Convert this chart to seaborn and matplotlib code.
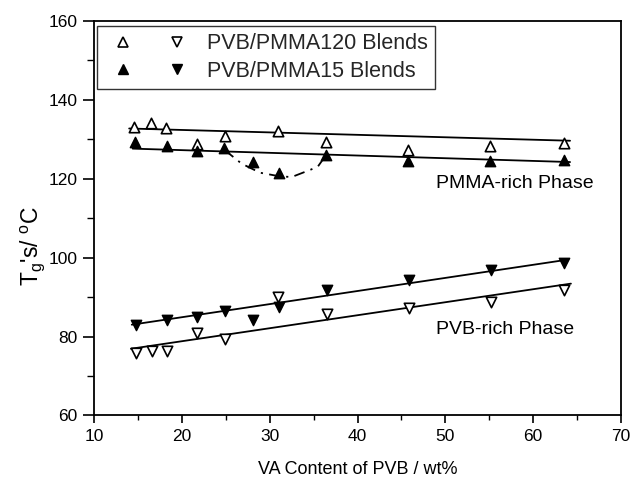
import numpy as np
import pandas as pd
import matplotlib
matplotlib.use("Agg")
import matplotlib.pyplot as plt
import seaborn as sns
from matplotlib.lines import Line2D
from matplotlib.legend_handler import HandlerTuple
from matplotlib.ticker import MultipleLocator

# ---------------- data ----------------
# PMMA-rich phase
pmma_x120 = [14.6, 16.5, 18.2, 21.7, 24.9, 31.0, 36.4, 45.8, 55.1, 63.5]
pmma_y120 = [133.0, 134.1, 132.7, 128.7, 130.8, 132.1, 129.2, 127.2, 128.2, 129.1]
pmma_x15 = [14.7, 18.3, 21.7, 24.8, 28.1, 31.1, 36.4, 45.8, 55.1, 63.5]
pmma_y15 = [129.3, 128.2, 127.0, 127.8, 124.2, 121.3, 126.0, 124.4, 124.4, 124.8]
# PVB-rich phase
pvb_x120 = [14.8, 16.6, 18.3, 21.7, 24.9, 31.0, 36.5, 45.9, 55.2, 63.5]
pvb_y120 = [75.9, 76.3, 76.3, 81.0, 79.5, 89.9, 85.6, 87.3, 88.7, 91.9]
pvb_x15 = [14.8, 18.3, 21.7, 24.9, 28.1, 31.1, 36.5, 45.9, 55.2, 63.5]
pvb_y15 = [83.0, 84.3, 84.9, 86.4, 84.3, 87.6, 91.9, 94.2, 96.8, 98.6]

# fitted straight lines (end points)
fit_pmma120_x = [14.0, 64.2]
fit_pmma120_y = [132.7, 129.6]
fit_pmma15_x = [14.4, 64.2]
fit_pmma15_y = [127.6, 124.2]
fit_pvb15_x = [14.3, 64.0]
fit_pvb15_y = [83.0, 99.5]
fit_pvb120_x = [14.2, 64.3]
fit_pvb120_y = [76.9, 93.4]

# dash-dot guide curve through the dip
dip_x = [24.9, 26.8, 28.9, 31.1, 32.5, 34.7, 35.5, 36.4]
dip_y = [127.2, 123.8, 121.5, 120.6, 120.4, 122.3, 123.1, 125.9]

legend_labels = ["PVB/PMMA120 Blends", "PVB/PMMA15 Blends"]
x_label = "VA Content of PVB / wt%"
y_label = "T$_\\mathregular{g}$'s/ $^\\mathregular{o}$C"
text_pmma = "PMMA-rich Phase"
text_pvb = "PVB-rich Phase"

# ---------------- plotting ----------------
sns.set_theme(style="white")
plt.rcParams["font.family"] = ["Liberation Sans", "DejaVu Sans"]
plt.rcParams["mathtext.fontset"] = "custom"
plt.rcParams["mathtext.rm"] = "Liberation Sans"
plt.rcParams["mathtext.it"] = "Liberation Sans"

fig = plt.figure(figsize=(6.34, 4.82), dpi=100)
ax = fig.add_axes([0.1483, 0.138, 0.8312, 0.819])

line_kw = dict(color="black", linewidth=1.3, legend=False, ax=ax)
for fx, fy in [(fit_pmma120_x, fit_pmma120_y), (fit_pmma15_x, fit_pmma15_y),
               (fit_pvb15_x, fit_pvb15_y), (fit_pvb120_x, fit_pvb120_y)]:
    sns.lineplot(x=fx, y=fy, **line_kw)

sns.lineplot(x=dip_x, y=dip_y, color="black", linewidth=1.3, ax=ax,
             linestyle=(0, (6, 3.5, 1.2, 3.5)), legend=False, sort=False)

ms = 56
sns.scatterplot(x=pmma_x120, y=pmma_y120, marker="^", s=ms, facecolor="white",
                edgecolor="black", linewidth=1.2, ax=ax, zorder=3)
sns.scatterplot(x=pmma_x15, y=pmma_y15, marker="^", s=ms, color="black",
                edgecolor="black", linewidth=1.0, ax=ax, zorder=3)
sns.scatterplot(x=pvb_x120, y=pvb_y120, marker="v", s=ms, facecolor="white",
                edgecolor="black", linewidth=1.2, ax=ax, zorder=3)
sns.scatterplot(x=pvb_x15, y=pvb_y15, marker="v", s=ms, color="black",
                edgecolor="black", linewidth=1.0, ax=ax, zorder=3)

ax.set_xlim(10, 70)
ax.set_ylim(60, 160)
ax.xaxis.set_major_locator(MultipleLocator(10))
ax.xaxis.set_minor_locator(MultipleLocator(5))
ax.yaxis.set_major_locator(MultipleLocator(20))
ax.yaxis.set_minor_locator(MultipleLocator(10))
ax.tick_params(axis="both", which="major", direction="out", width=1.2,
               labelsize=12.5, color="black", labelcolor="black", pad=4,
               bottom=True, left=True, top=False, right=False)
ax.tick_params(axis="x", which="major", length=6)
ax.tick_params(axis="y", which="major", length=8)
ax.tick_params(axis="both", which="minor", direction="out", width=1.0,
               color="black", bottom=True, left=True, top=False, right=False)
ax.tick_params(axis="x", which="minor", length=3.5)
ax.tick_params(axis="y", which="minor", length=5)
for sp in ax.spines.values():
    sp.set_color("black")
    sp.set_linewidth(1.3)
    sp.set_visible(True)

ax.set_xlabel(x_label, fontsize=13, color="black", labelpad=12)
ax.set_ylabel(y_label, fontsize=16.5, color="black")
ax.yaxis.set_label_coords(-0.09, 0.43)

ax.text(57.9, 118.8, text_pmma, ha="center", va="center", fontsize=14, color="black")
ax.text(56.8, 81.7, text_pvb, ha="center", va="center", fontsize=14, color="black")

h1 = (Line2D([], [], marker="^", ls="none", ms=7, mfc="white", mec="black", mew=1.2),
      Line2D([], [], marker="v", ls="none", ms=7, mfc="white", mec="black", mew=1.2))
h2 = (Line2D([], [], marker="^", ls="none", ms=7, mfc="black", mec="black"),
      Line2D([], [], marker="v", ls="none", ms=7, mfc="black", mec="black"))
leg = ax.legend([h1, h2], legend_labels,
                handler_map={tuple: HandlerTuple(ndivide=None, pad=0.8)},
                loc="upper left", bbox_to_anchor=(0.006, 0.987), borderaxespad=0,
                fontsize=15.5, frameon=True, fancybox=False, edgecolor="black",
                borderpad=0.35, handlelength=4.2, handletextpad=0.55,
                labelspacing=0.3)
leg.get_frame().set_linewidth(1.0)

fig.savefig("out.png", dpi=100, facecolor="white")
